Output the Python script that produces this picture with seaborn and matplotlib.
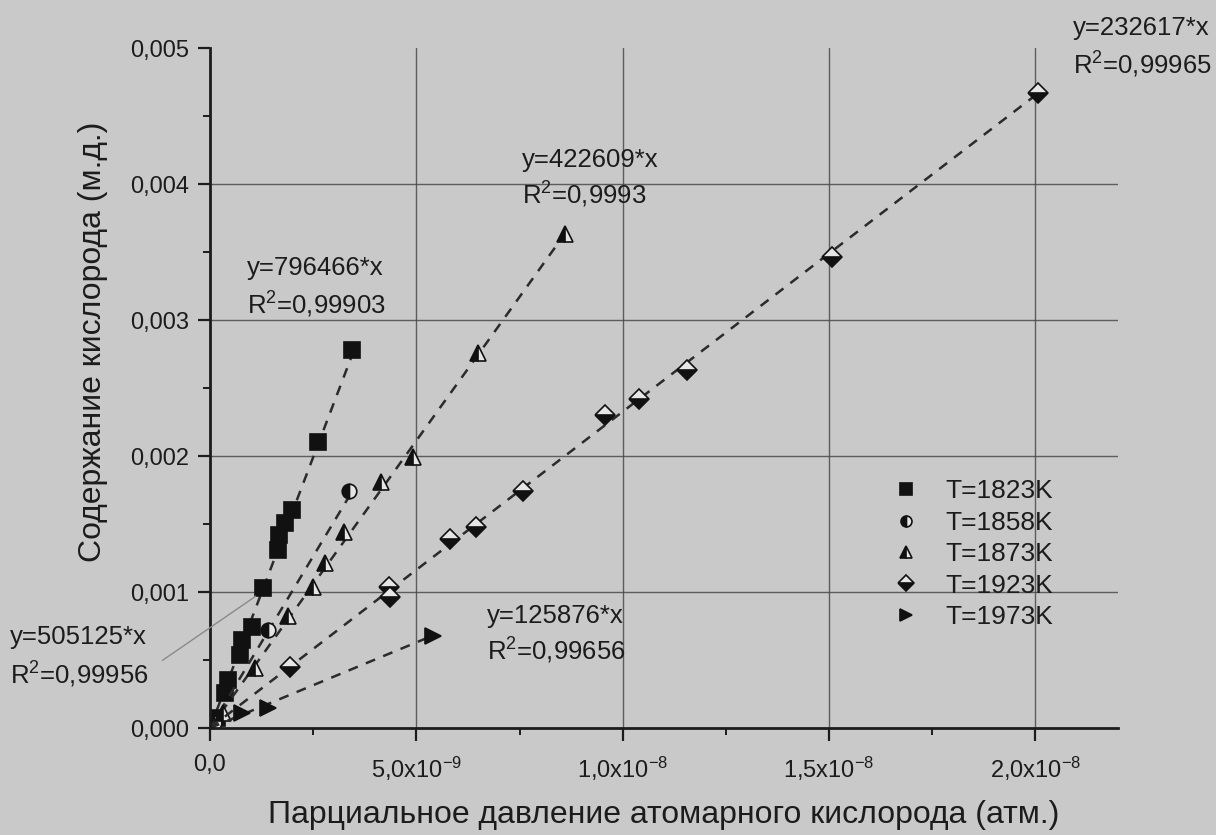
import numpy as np
import pandas as pd
import matplotlib
matplotlib.use("Agg")
import matplotlib.pyplot as plt
import seaborn as sns
from matplotlib.ticker import MultipleLocator, FixedLocator, FixedFormatter
from matplotlib.lines import Line2D

# ---------------- data (x in 1e-9 atm, y in 1e-3 mole fraction) ----------------
x_1823 = [3.44, 2.61, 1.99, 1.82, 1.67, 1.65, 1.28, 1.02, 0.77, 0.73, 0.44, 0.36, 0.17]
y_1823 = [2.78, 2.10, 1.60, 1.51, 1.42, 1.31, 1.03, 0.74, 0.65, 0.54, 0.35, 0.26, 0.07]

x_1858 = [3.37, 1.40, 0.10]
y_1858 = [1.74, 0.72, 0.04]

x_1873 = [8.60, 6.49, 4.92, 4.14, 3.24, 2.78, 2.49, 1.89, 1.09, 0.31]
y_1873 = [3.63, 2.76, 1.99, 1.81, 1.44, 1.21, 1.04, 0.82, 0.44, 0.11]

x_1923 = [20.05, 15.06, 11.55, 10.39, 9.56, 7.58, 6.44, 5.81, 4.33, 4.36, 1.94]
y_1923 = [4.67, 3.46, 2.63, 2.42, 2.30, 1.74, 1.48, 1.39, 1.04, 0.96, 0.45]

x_1973 = [5.40, 1.40, 0.77]
y_1973 = [0.68, 0.15, 0.11]

series_labels = ["T=1823K", "T=1858K", "T=1873K", "T=1923K", "T=1973K"]
fit_slopes = [796466, 505125, 422609, 232617, 125876]
fit_r2 = ["0,99903", "0,99956", "0,9993", "0,99965", "0,99656"]

x_tick_values = [0, 5e-9, 1.0e-8, 1.5e-8, 2.0e-8]
x_tick_labels = ["0,0", r"5,0x10$^{-9}$", r"1,0x10$^{-8}$", r"1,5x10$^{-8}$", r"2,0x10$^{-8}$"]
y_tick_values = [0.000, 0.001, 0.002, 0.003, 0.004, 0.005]
y_tick_labels = ["0,000", "0,001", "0,002", "0,003", "0,004", "0,005"]

xlabel = "Парциальное давление атомарного кислорода (атм.)"
ylabel = "Содержание кислорода (м.д.)"

# ---------------- style ----------------
sns.set_style("ticks")
plt.rcParams["font.family"] = ["Liberation Sans", "DejaVu Sans"]
plt.rcParams["mathtext.fontset"] = "custom"
plt.rcParams["mathtext.rm"] = "Liberation Sans"
plt.rcParams["mathtext.it"] = "Liberation Sans:italic"
plt.rcParams["mathtext.bf"] = "Liberation Sans:bold"

BG = "#c9c9c9"
INK = "#1c1c1c"
GRID = "#4a4a4a"

fig = plt.figure(figsize=(12.16, 8.35), dpi=100, facecolor=BG)
ax = fig.add_axes([210 / 1216, 107 / 835, 908 / 1216, 680 / 835])
ax.set_facecolor(BG)

xs = [x_1823, x_1858, x_1873, x_1923, x_1973]
ys = [y_1823, y_1858, y_1873, y_1923, y_1973]
markers = ["s", "o", "^", "D", ">"]
fills = ["full", "left", "left", "bottom", "full"]
msizes = [11, 10.5, 11.5, 10.5, 12]

handles = []
for xv, yv, lab, mk, fs, ms, k in zip(xs, ys, series_labels, markers, fills, msizes, fit_slopes):
    xa = np.array(xv) * 1e-9
    ya = np.array(yv) * 1e-3
    # fitted line y = k*x from 0 to the last point
    fit_x = np.array([0.0, xa.max()])
    fit_df = pd.DataFrame({"x": fit_x, "y": k * fit_x})
    sns.lineplot(data=fit_df, x="x", y="y", ax=ax, color="#2b2b2b", lw=1.8,
                 linestyle=(0, (4, 3.5)), estimator=None, sort=False, errorbar=None)
    df = pd.DataFrame({"x": xa, "y": ya})
    sns.lineplot(data=df, x="x", y="y", ax=ax, linestyle="none", marker=mk,
                 markersize=ms, fillstyle=fs, color="#111111",
                 markerfacecolor="#111111", markerfacecoloralt="#e6e6e6",
                 markeredgecolor="#111111", markeredgewidth=1.2,
                 estimator=None, sort=False, errorbar=None)
    handles.append(Line2D([], [], linestyle="none", marker=mk, markersize=ms * 0.75,
                          fillstyle=fs, color="#111111", markerfacecolor="#111111",
                          markerfacecoloralt="#e6e6e6", markeredgecolor="#111111",
                          markeredgewidth=1.2, label=lab))

ax.set_xlim(0, 2.2e-8)
ax.set_ylim(0, 0.005)

ax.xaxis.set_major_locator(FixedLocator(x_tick_values))
ax.xaxis.set_major_formatter(FixedFormatter(x_tick_labels))
ax.xaxis.set_minor_locator(MultipleLocator(2.5e-9))
ax.yaxis.set_major_locator(FixedLocator(y_tick_values))
ax.yaxis.set_major_formatter(FixedFormatter(y_tick_labels))
ax.yaxis.set_minor_locator(MultipleLocator(0.0005))

ax.tick_params(axis="both", which="major", direction="out", length=9, width=1.6,
               color=INK, labelcolor=INK, labelsize=17)
ax.tick_params(axis="both", which="minor", direction="out", length=5, width=1.4, color=INK)
ax.tick_params(axis="x", which="major", pad=10)
ax.tick_params(axis="y", which="major", pad=6)

for s in ["top", "right"]:
    ax.spines[s].set_visible(False)
for s in ["left", "bottom"]:
    ax.spines[s].set_linewidth(2.0)
    ax.spines[s].set_color(INK)

ax.grid(True, which="major", color=GRID, lw=1.0, alpha=0.85)
ax.xaxis.get_gridlines()[0].set_visible(False)
ax.yaxis.get_gridlines()[0].set_visible(False)
ax.yaxis.get_gridlines()[-1].set_visible(False)

ax.set_xlabel(xlabel, fontsize=23, color=INK)
ax.set_ylabel(ylabel, fontsize=23, color=INK)
ax.xaxis.set_label_coords(0.5, -0.106)
ax.yaxis.set_label_coords(-0.112, 0.568)

# ---------------- fit annotations ----------------
ann_pos = {  # left x (1e-9), y first line (1e-3), y second line (1e-3)
    796466: (0.90, 3.38, 3.11),
    505125: (-4.84, 0.67, 0.39),
    422609: (7.55, 4.18, 3.92),
    232617: (20.90, 5.15, 4.875),
    125876: (6.71, 0.82, 0.57),
}
for k, r2 in zip(fit_slopes, fit_r2):
    xl, y1, y2 = ann_pos[k]
    ax.text(xl * 1e-9, y1 * 1e-3, f"y={k}*x", fontsize=18.5, color=INK,
            ha="left", va="center", clip_on=False)
    ax.text(xl * 1e-9, y2 * 1e-3, f"R$^2$=" + r2, fontsize=18.5, color=INK,
            ha="left", va="center", clip_on=False)

# faint leader line for the 505125 label
ax.annotate("", xy=(1.16e-9, 0.98e-3), xytext=(-1.21e-9, 0.485e-3),
            arrowprops=dict(arrowstyle="-", color="#8a8a8a", lw=1.0),
            annotation_clip=False)

# ---------------- legend ----------------
leg = ax.legend(handles=handles, loc="upper left", bbox_to_anchor=(0.740, 0.381),
                frameon=False, fontsize=19, handlelength=1.0, handletextpad=1.0,
                labelspacing=0.28, borderaxespad=0)
for t in leg.get_texts():
    t.set_color(INK)

fig.savefig("out.png", dpi=100, facecolor=BG)
